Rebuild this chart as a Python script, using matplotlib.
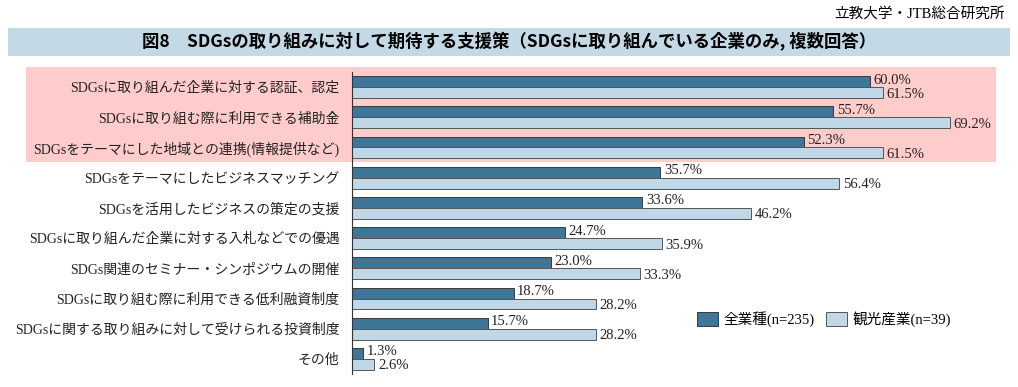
import numpy as np
import matplotlib
matplotlib.use('Agg')
import matplotlib.pyplot as plt
from matplotlib.patches import Rectangle

plt.rcParams['font.family'] = ['Liberation Serif', 'Noto Sans CJK JP']

# data
categories = [
    'SDGsに取り組んだ企業に対する認証、認定',
    'SDGsに取り組む際に利用できる補助金',
    'SDGsをテーマにした地域との連携(情報提供など)',
    'SDGsをテーマにしたビジネスマッチング',
    'SDGsを活用したビジネスの策定の支援',
    'SDGsに取り組んだ企業に対する入札などでの優遇',
    'SDGs関連のセミナー・シンポジウムの開催',
    'SDGsに取り組む際に利用できる低利融資制度',
    'SDGsに関する取り組みに対して受けられる投資制度',
    'その他',
]
all_industries = [60.0, 55.7, 52.3, 35.7, 33.6, 24.7, 23.0, 18.7, 15.7, 1.3]
tourism = [61.5, 69.2, 61.5, 56.4, 46.2, 35.9, 33.3, 28.2, 28.2, 2.6]
series_names = ['全業種(n=235)', '観光産業(n=39)']

W, H = 1018, 387
fig = plt.figure(figsize=(W / 100, H / 100), dpi=100)

# title band and credit
fig.patches.append(Rectangle((8 / W, 1 - 56 / H), 1002 / W, 28 / H,
                             transform=fig.transFigure, facecolor='#c3dae6',
                             edgecolor='none', zorder=0))
fig.text(0.5, 1 - 42 / H, '図8　SDGsの取り組みに対して期待する支援策（SDGsに取り組んでいる企業のみ, 複数回答）',
         ha='center', va='center', fontsize=12.5, fontweight='bold',
         family=['Noto Sans CJK JP', 'DejaVu Sans'])
fig.text(1005 / W, 1 - 14 / H, '立教大学・JTB総合研究所', ha='right', va='center',
         fontsize=10.5)

# pink highlight for top 3
fig.patches.append(Rectangle((26 / W, 1 - 162 / H), 970 / W, 95 / H,
                             transform=fig.transFigure, facecolor='#ffcccc',
                             edgecolor='none', zorder=0))

ax = fig.add_axes([352 / W, 1 - 374 / H, (1000 - 352) / W, 302 / H])
ax.patch.set_alpha(0)
ax.set_zorder(2)

y = np.arange(len(categories))
h = 0.36
ax.barh(y - h / 2, all_industries, height=h, color='#3e7698', edgecolor='#3a3a3a',
        linewidth=0.7, label=series_names[0])
ax.barh(y + h / 2, tourism, height=h, color='#bfd7e6', edgecolor='#555555',
        linewidth=0.7, label=series_names[1])

for i in range(len(categories)):
    ax.text(all_industries[i] + 0.4, y[i] - h / 2 - 0.05, f'{all_industries[i]:.1f}%',
            va='center', ha='left', fontsize=10.5, color='#222222')
    ax.text(tourism[i] + 0.4, y[i] + h / 2 + 0.05, f'{tourism[i]:.1f}%',
            va='center', ha='left', fontsize=10.5, color='#222222')

ax.set_xlim(0, (1000 - 352) / 8.64)
ax.set_ylim(len(categories) - 0.5, -0.5)
ax.set_yticks(y)
ax.set_yticklabels(categories, fontsize=10, color='#222222')
ax.tick_params(axis='y', length=0, pad=9)
ax.set_xticks([])
for s in ['top', 'right', 'bottom']:
    ax.spines[s].set_visible(False)
ax.spines['left'].set_color('#333333')
ax.spines['left'].set_linewidth(0.8)

leg = fig.legend(loc='center left', bbox_to_anchor=(684 / W, 1 - 319 / H), ncol=2,
                 frameon=False, fontsize=10.5, handlelength=1.4, handleheight=1.1,
                 columnspacing=0.8, handletextpad=0.4)

fig.savefig('out.png', dpi=100)
